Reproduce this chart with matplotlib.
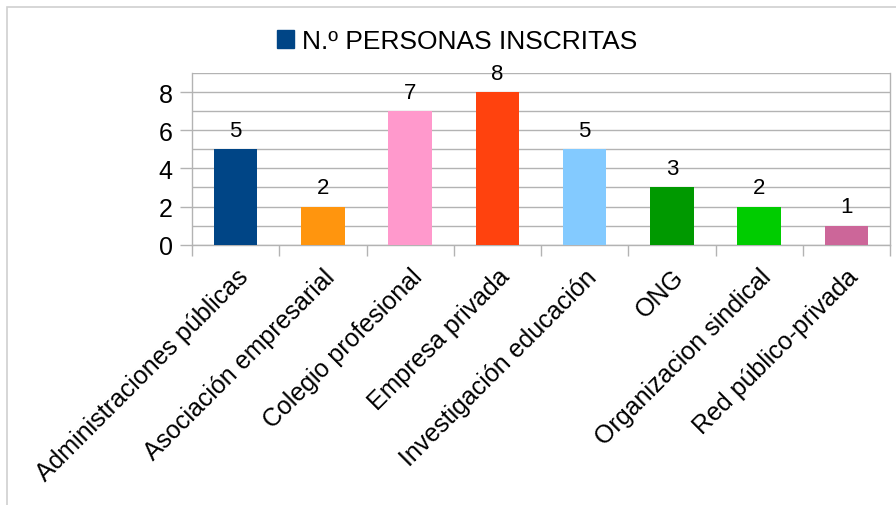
import matplotlib.pyplot as plt
import numpy as np
from matplotlib.patches import Rectangle

plt.rcParams['font.family'] = ['Liberation Sans', 'DejaVu Sans']

categories = [
    "Administraciones públicas",
    "Asociación empresarial",
    "Colegio profesional",
    "Empresa privada",
    "Investigación educación",
    "ONG",
    "Organizacion sindical",
    "Red público-privada",
]
values = [5, 2, 7, 8, 5, 3, 2, 1]
colors = ["#004586", "#ff950e", "#ff99cc", "#ff420e",
          "#83caff", "#009900", "#00cc00", "#cc6699"]
series_name = "N.º PERSONAS INSCRITAS"
grid_color = "#b3b3b3"

fig = plt.figure(figsize=(8.96, 5.06), dpi=100)
ax = fig.add_axes([192 / 896, 1 - 245.7 / 506, (890 - 192) / 896, (245.7 - 74) / 506])

# outer chart border (left and top only visible)
fig.patches.append(Rectangle((7 / 896, -0.1), 1.2, 1 - 8 / 506 + 0.1,
                             transform=fig.transFigure, fill=False,
                             edgecolor="#d0d0d0", linewidth=1.2))

x = np.arange(len(categories))
bars = ax.bar(x, values, width=0.5, color=colors, zorder=3)
ax.bar_label(bars, labels=[str(v) for v in values], padding=6,
             fontsize=16, color="#000000")

ax.set_xlim(-0.5, len(categories) - 0.5)
ax.set_ylim(0, 9)

# gridlines: major at even values, minor at odd values
ax.set_yticks([0, 2, 4, 6, 8])
ax.set_yticks([1, 3, 5, 7, 9], minor=True)
ax.grid(axis="y", which="both", color=grid_color, linewidth=1, zorder=0)
ax.tick_params(axis="y", which="major", length=9, width=1, color=grid_color,
               labelsize=18, pad=5)
ax.tick_params(axis="y", which="minor", length=0)

ax.set_xticks(x)
ax.set_xticklabels(categories, rotation=45, ha="right", va="top",
                   rotation_mode="anchor", fontsize=18)
ax.set_xticks(np.arange(len(categories) + 1) - 0.5, minor=True)
ax.tick_params(axis="x", which="major", length=0, pad=14)
ax.tick_params(axis="x", which="minor", length=8, width=1, color=grid_color)

for side in ["left", "right", "bottom"]:
    ax.spines[side].set_color(grid_color)
    ax.spines[side].set_linewidth(1)
ax.spines["top"].set_visible(False)

handle = Rectangle((0, 0), 1, 1, color=colors[0])
fig.legend([handle], [series_name], loc="center", bbox_to_anchor=(0.51, 0.917),
           frameon=False, fontsize=19, handlelength=0.65, handleheight=0.65,
           handletextpad=0.3)

fig.savefig("out.png", dpi=100)
